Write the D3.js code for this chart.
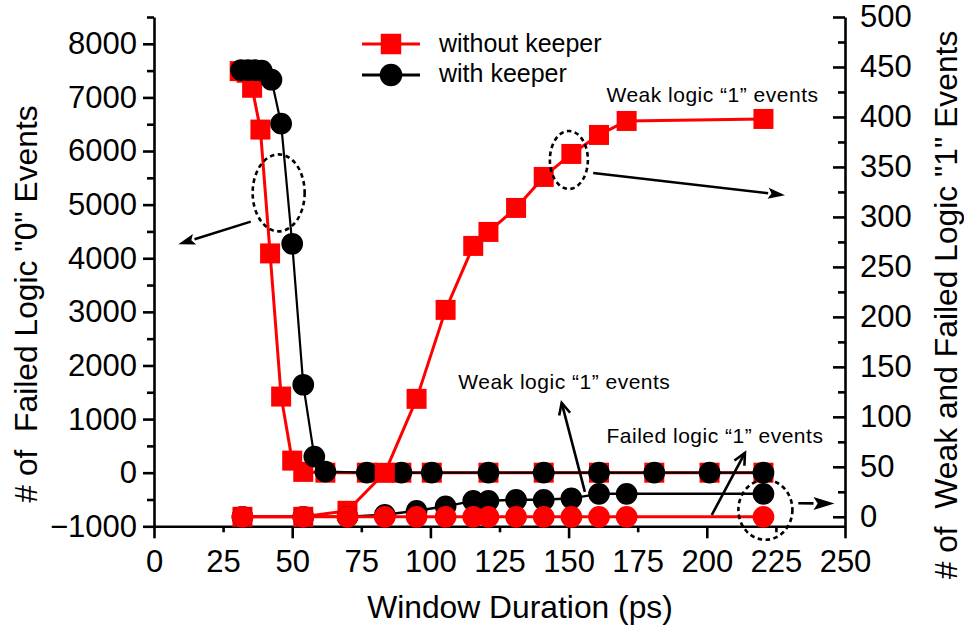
<!DOCTYPE html>
<html>
<head>
<meta charset="utf-8">
<script src="https://cdn.jsdelivr.net/npm/d3@7"></script>
<style>
  body { margin: 0; background: #fff; }
  svg { display: block; }
  text { font-family: "Liberation Sans", Arial, Helvetica, sans-serif; fill: #000; }
</style>
</head>
<body>
<svg id="chart" width="964" height="635"></svg>
<script>
// ---- Failed logic "0" events (left axis) ----
const xFailZeroWithout = [31, 33.5, 35.5, 38.5, 42, 46, 50, 54, 62, 77, 89.5, 100.5, 121, 141, 161, 181, 201, 220.5];
const failZeroWithout  = [7490, 7460, 7180, 6400, 4090, 1420, 225, 15, 0, 0, 0, 0, 0, 0, 0, 0, 0, 0];
const xFailZeroWith    = [31.5, 34, 36.5, 39, 42.5, 46, 50, 54, 58, 62, 77, 89.5, 100.5, 121, 141, 161, 181, 201, 220.5];
const failZeroWith     = [7510, 7510, 7510, 7500, 7330, 6510, 4270, 1640, 300, 20, 0, 0, 0, 0, 0, 0, 0, 0, 0];

// ---- Weak / failed logic "1" events (right axis) ----
const xLogicOne        = [32, 54, 70, 83.5, 95, 105.5, 115.5, 121, 131, 141, 151, 161, 171, 220.5];
const weakOneWithout   = [0, 0, 6, 44, 118, 207, 271, 285, 309, 340, 363, 382, 396, 398];
const weakOneWith      = [0, 0, 0, 2, 6, 10.5, 16, 16, 17, 17, 18.5, 23, 23, 23];
const failedOne        = [0, 0, 0, 0, 0, 0, 0, 0, 0, 0, 0, 0, 0, 0];

// ---- Tick values ----
const xTickLabels   = [0, 25, 50, 75, 100, 125, 150, 175, 200, 225, 250];
const xMajorTicks   = [0, 50, 100, 150, 200, 250];
const xMinorTicks   = [25, 75, 125, 175, 225];
const leftTicks     = [-1000, 0, 1000, 2000, 3000, 4000, 5000, 6000, 7000, 8000];
const leftMinor     = [-500, 500, 1500, 2500, 3500, 4500, 5500, 6500, 7500, 8500];
const rightTicks    = [0, 50, 100, 150, 200, 250, 300, 350, 400, 450, 500];
const rightMinor    = [25, 75, 125, 175, 225, 275, 325, 375, 425, 475];

const legendLabels  = ["without keeper", "with keeper"];

const RED = "#ff0000", BLACK = "#000000";
const svg = d3.select("#chart");

const x  = d3.scaleLinear().domain([0, 250]).range([154, 845]);
const yL = d3.scaleLinear().domain([-1000, 8500]).range([526.3, 17]);
const yR = d3.scaleLinear().domain([-9.5, 500]).range([526.3, 17]);

const FS = 31;
const TFS = 31.8;

// ---- Axes ----
const gx = svg.append("g").attr("transform", `translate(0,${yL.range()[0]})`);
gx.call(d3.axisBottom(x).tickValues(xMajorTicks).tickSize(12).tickSizeOuter(0).tickFormat(""));
const gxMinor = svg.append("g").attr("transform", `translate(0,${yL.range()[0]})`)
  .call(d3.axisBottom(x).tickValues(xMinorTicks).tickSize(6).tickSizeOuter(0).tickFormat(""));
gxMinor.select(".domain").remove();
const gxLab = svg.append("g").attr("transform", `translate(0,${yL.range()[0]})`)
  .call(d3.axisBottom(x).tickValues(xTickLabels).tickSize(0).tickPadding(24).tickFormat(d3.format("d")));
gxLab.select(".domain").remove();

const gl = svg.append("g").attr("transform", `translate(${x(0)},0)`)
  .call(d3.axisLeft(yL).tickValues(leftTicks).tickSize(11).tickPadding(6).tickSizeOuter(0).tickFormat(d3.format("d")));
const glMinor = svg.append("g").attr("transform", `translate(${x(0)},0)`)
  .call(d3.axisLeft(yL).tickValues(leftMinor).tickSize(7).tickSizeOuter(0).tickFormat(""));
glMinor.select(".domain").remove();

const gr = svg.append("g").attr("transform", `translate(${x(250)},0)`)
  .call(d3.axisRight(yR).tickValues(rightTicks).tickSize(-12).tickPadding(15).tickSizeOuter(0).tickFormat(d3.format("d")));
const grMinor = svg.append("g").attr("transform", `translate(${x(250)},0)`)
  .call(d3.axisRight(yR).tickValues(rightMinor).tickSize(-7).tickSizeOuter(0).tickFormat(""));
grMinor.select(".domain").remove();

svg.selectAll(".domain").attr("stroke", BLACK).attr("stroke-width", 2.6);
svg.selectAll(".tick line").attr("stroke", BLACK).attr("stroke-width", 2.6);
svg.selectAll(".tick text").attr("font-size", FS)
  .attr("font-family", '"Liberation Sans", Arial, sans-serif').attr("fill", BLACK);

// ---- Axis titles ----
svg.append("text").attr("x", 520).attr("y", 618).attr("text-anchor", "middle")
  .attr("font-size", TFS).text("Window Duration (ps)");
svg.append("text").attr("transform", "translate(37,304) rotate(-90)").attr("text-anchor", "middle")
  .attr("font-size", TFS).attr("xml:space", "preserve").style("white-space", "pre")
  .text('# of  Failed Logic "0" Events');
svg.append("text").attr("transform", "translate(957,305) rotate(-90)").attr("text-anchor", "middle")
  .attr("font-size", TFS).attr("xml:space", "preserve").style("white-space", "pre")
  .text('# of  Weak and Failed Logic "1" Events');

// ---- Series drawing helpers ----
function drawSeries(xs, ys, yScale, color, shape, lineWidth) {
  const pts = xs.map((d, i) => [d, ys[i]]);
  const line = d3.line().x(d => x(d[0])).y(d => yScale(d[1]));
  const g = svg.append("g");
  g.append("path").attr("d", line(pts)).attr("fill", "none")
    .attr("stroke", color).attr("stroke-width", lineWidth).attr("stroke-linejoin", "round");
  const sym = d3.symbol().type(shape === "square" ? d3.symbolSquare : d3.symbolCircle)
    .size(shape === "square" ? 400 : 370);
  g.selectAll("path.m").data(pts).join("path").attr("class", "m")
    .attr("d", sym).attr("transform", d => `translate(${x(d[0])},${yScale(d[1])})`)
    .attr("fill", color);
  return g;
}

drawSeries(xFailZeroWithout, failZeroWithout, yL, RED, "square", 3);
drawSeries(xFailZeroWith, failZeroWith, yL, BLACK, "circle", 2.2);
drawSeries(xLogicOne, weakOneWithout, yR, RED, "square", 3);
drawSeries(xLogicOne, weakOneWith, yR, BLACK, "circle", 2.4);
drawSeries(xLogicOne, failedOne, yR, RED, "circle", 3);

// ---- Annotations ----
function ellipse(cx, cy, rx, ry) {
  svg.append("ellipse").attr("cx", cx).attr("cy", cy).attr("rx", rx).attr("ry", ry)
    .attr("fill", "none").attr("stroke", BLACK).attr("stroke-width", 2.6)
    .attr("stroke-dasharray", "4.5,3.5");
}
function arrow(x1, y1, x2, y2, filled, headLen, headHalf) {
  const a = Math.atan2(y2 - y1, x2 - x1);
  if (filled) {
    const len = headLen || 17, half = headHalf || 5.5;
    const bx = x2 - len * Math.cos(a), by = y2 - len * Math.sin(a);
    svg.append("line").attr("x1", x1).attr("y1", y1).attr("x2", bx).attr("y2", by)
      .attr("stroke", BLACK).attr("stroke-width", 2.6);
    const px = -Math.sin(a) * half, py = Math.cos(a) * half;
    svg.append("path")
      .attr("d", `M${x2},${y2}L${bx + px},${by + py}L${bx + len * 0.2 * Math.cos(a)},${by + len * 0.2 * Math.sin(a)}L${bx - px},${by - py}Z`)
      .attr("fill", BLACK);
  } else {
    const len = 13, half = 0.45;
    svg.append("line").attr("x1", x1).attr("y1", y1).attr("x2", x2).attr("y2", y2)
      .attr("stroke", BLACK).attr("stroke-width", 2.6);
    const l1 = a + Math.PI - half, l2 = a + Math.PI + half;
    svg.append("path")
      .attr("d", `M${x2 + len * Math.cos(l1)},${y2 + len * Math.sin(l1)}L${x2},${y2}L${x2 + len * Math.cos(l2)},${y2 + len * Math.sin(l2)}`)
      .attr("fill", "none").attr("stroke", BLACK).attr("stroke-width", 2.6).attr("stroke-linejoin", "miter");
  }
}

// steep drop of failed logic "0" events -> left axis
ellipse(x(45.1), yL(5220), 26, 38.5);
arrow(x(35), yL(4683), x(8.8), yL(4261), true);
// weak logic "1" curve -> right axis
ellipse(x(150.1), yR(357), 19, 29);
arrow(x(158.9), yR(344), x(228.3), yR(321.8), true);
// last failed / weak logic "1" points -> right axis
ellipse(x(221.2), yR(7), 27, 30);
arrow(x(233.1), yR(13.5), x(246.2), yR(13.3), true, 21, 6.5);
// pointers to the two low curves
arrow(x(155.9), yR(25), x(147.5), yR(114), false);
arrow(x(201.8), yR(1.8), x(213.8), yR(64), false);

const AFS = 21;
svg.append("text").attr("x", x(163.7)).attr("y", yR(414.5)).attr("font-size", AFS)
  .attr("letter-spacing", 0.5).text("Weak logic \u201C1\u201D events");
svg.append("text").attr("x", x(110.1)).attr("y", yR(127.5)).attr("font-size", AFS)
  .attr("letter-spacing", 0.5).text("Weak logic \u201C1\u201D events");
svg.append("text").attr("x", x(163.7)).attr("y", yR(74)).attr("font-size", AFS)
  .attr("letter-spacing", 0.5).text("Failed logic \u201C1\u201D events");

// ---- Legend ----
const legend = svg.append("g");
const legendItems = [
  { label: legendLabels[0], color: RED, shape: d3.symbolSquare, size: 420, y: 44, base: 51.7 },
  { label: legendLabels[1], color: BLACK, shape: d3.symbolCircle, size: 400, y: 75, base: 82 }
];
legendItems.forEach(it => {
  legend.append("line").attr("x1", 362).attr("x2", 420).attr("y1", it.y).attr("y2", it.y)
    .attr("stroke", it.color).attr("stroke-width", 3);
  legend.append("path").attr("d", d3.symbol().type(it.shape).size(it.size)())
    .attr("transform", `translate(391,${it.y})`).attr("fill", it.color);
  legend.append("text").attr("x", 439).attr("y", it.base).attr("font-size", 25).text(it.label);
});
</script>
</body>
</html>
